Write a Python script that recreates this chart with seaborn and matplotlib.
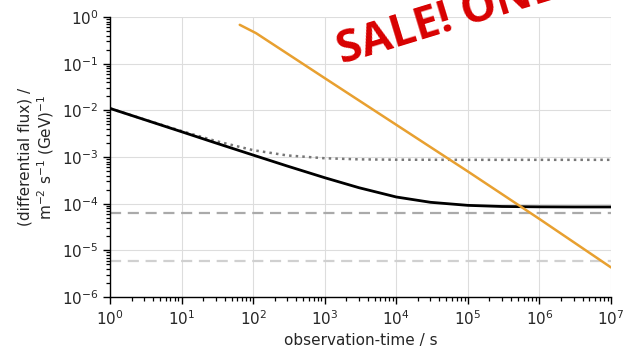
import matplotlib
matplotlib.use("Agg")
import matplotlib.pyplot as plt
import matplotlib.ticker as mticker
import seaborn as sns
import pandas as pd
import numpy as np

# --- data ---
t_black = [1, 3, 10, 30, 100, 300, 1e3, 3e3, 1e4, 3e4, 1e5, 3e5, 1e6, 3e6, 1e7]
f_black = [1.1e-2, 6.35e-3, 3.48e-3, 2.0e-3, 1.1e-3, 6.4e-4, 3.6e-4, 2.2e-4,
           1.39e-4, 1.07e-4, 9.2e-5, 8.7e-5, 8.55e-5, 8.5e-5, 8.5e-5]

t_dot = [1, 3, 10, 30, 100, 300, 1e3, 3e3, 1e4, 1e5, 1e6, 1e7]
f_dot = [1.1e-2, 6.4e-3, 3.6e-3, 2.2e-3, 1.4e-3, 1.08e-3, 9.4e-4, 8.9e-4,
         8.75e-4, 8.7e-4, 8.7e-4, 8.7e-4]

t_orange = [65, 110, 1e3, 1e4, 1e5, 1e6, 1e7]
f_orange = [0.68, 0.45, 4.9e-2, 4.9e-3, 4.9e-4, 4.7e-5, 4.3e-6]

t_span = [1, 1e7]
f_dash1 = [6.3e-5, 6.3e-5]
f_dash2 = [6.0e-6, 6.0e-6]

xlabel = "observation-time / s"
ylabel = "(differential flux) /\nm$^{-2}$ s$^{-1}$ (GeV)$^{-1}$"
watermark = "SALE! ONE"

sns.set_style("ticks", {"axes.grid": True, "grid.color": "#dddddd",
                        "xtick.bottom": True, "ytick.left": True})
plt.rcParams["font.family"] = ["DejaVu Sans"]

fig = plt.figure(figsize=(6.26, 3.51), dpi=100)
ax = fig.add_axes([110/626, 1-297/351, (611-110)/626, (297-17)/351])

d1 = pd.DataFrame({"t": t_span, "f": f_dash1})
d2 = pd.DataFrame({"t": t_span, "f": f_dash2})
dd = pd.DataFrame({"t": t_dot, "f": f_dot})
db = pd.DataFrame({"t": t_black, "f": f_black})
do = pd.DataFrame({"t": t_orange, "f": f_orange})

sns.lineplot(data=d1, x="t", y="f", ax=ax, color="#aaaaaa", lw=1.6)
ax.lines[-1].set_dashes([5, 3])
sns.lineplot(data=d2, x="t", y="f", ax=ax, color="#d0d0d0", lw=1.6)
ax.lines[-1].set_dashes([5, 3])
sns.lineplot(data=dd, x="t", y="f", ax=ax, color="#777777", lw=1.8)
ax.lines[-1].set_linestyle(":")
sns.lineplot(data=db, x="t", y="f", ax=ax, color="black", lw=2.0)
sns.lineplot(data=do, x="t", y="f", ax=ax, color="#e8a030", lw=1.8)

ax.set_xscale("log")
ax.set_yscale("log")
ax.set_xlim(1, 1e7)
ax.set_ylim(1e-6, 1)
ax.xaxis.set_major_locator(mticker.LogLocator(base=10, numticks=20))
ax.yaxis.set_major_locator(mticker.LogLocator(base=10, numticks=20))
xminor = [m * 10.0 ** e for e in range(0, 7) for m in range(2, 10)]
yminor = [m * 10.0 ** e for e in range(-6, 0) for m in range(2, 10)]
ax.xaxis.set_minor_locator(mticker.FixedLocator(xminor))
ax.yaxis.set_minor_locator(mticker.FixedLocator(yminor))
ax.xaxis.set_minor_formatter(mticker.NullFormatter())
ax.yaxis.set_minor_formatter(mticker.NullFormatter())
ax.tick_params(axis="both", which="major", labelsize=11, length=5, width=1.0,
               direction="out", color="black")
ax.tick_params(axis="x", which="minor", length=3, width=0.9, bottom=True,
               direction="out", color="black")
ax.tick_params(axis="y", which="minor", length=3, width=0.9, left=True,
               direction="out", color="black")
ax.set_xlabel(xlabel, fontsize=11)
ax.set_ylabel(ylabel, fontsize=11)
ax.grid(True, which="major", color="#dddddd", lw=0.8)
ax.grid(False, which="minor")
sns.despine(ax=ax)
for s in ("left", "bottom"):
    ax.spines[s].set_color("black")
    ax.spines[s].set_linewidth(1.0)

fig.text(342/626, 1-64/351, watermark, color="#d80000", fontsize=32,
         fontweight="bold", family="Open Sans", rotation=17,
         rotation_mode="anchor", ha="left", va="baseline")

fig.savefig("out.png", dpi=100)
